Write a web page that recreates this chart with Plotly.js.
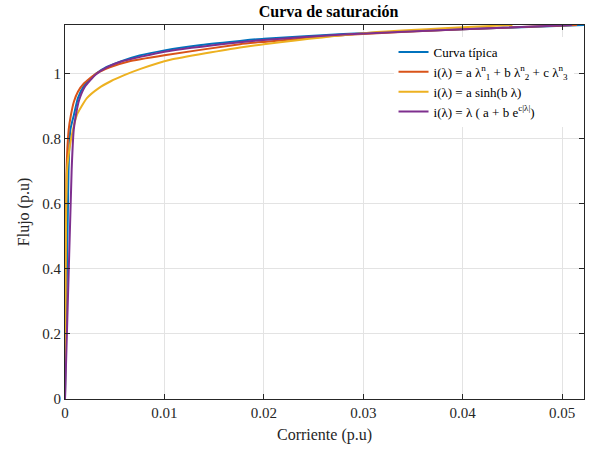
<!DOCTYPE html>
<html><head><meta charset="utf-8">
<script src="https://cdn.plot.ly/plotly-3.0.1.min.js"></script>
<style>html,body{margin:0;padding:0;background:#fff}#c{width:592px;height:450px}</style>
</head><body><div id="c"></div>
<script>
const names = ["Curva típica",
  "i(λ) = a λ<sup>n</sup><sub>1</sub> + b λ<sup>n</sup><sub>2</sub> + c λ<sup>n</sup><sub>3</sub>",
  "i(λ) = a sinh(b λ)",
  "i(λ) = λ ( a + b e<sup>c|λ|</sup>)"];
const colors = ["#0072BD", "#D95319", "#EDB120", "#7E2F8E"];

const typicalI = [0, 0.00035, 0.00054, 0.0009, 0.0013, 0.0019, 0.0031, 0.0042, 0.0056, 0.0075, 0.01, 0.0135, 0.0176, 0.02, 0.028, 0.04, 0.0522];
const typicalF = [0, 0.7, 0.828, 0.874, 0.925, 0.962, 1.0, 1.021, 1.038, 1.056, 1.072, 1.088, 1.101, 1.108, 1.122, 1.137, 1.15];

const polyI = [0, 0.00015, 0.00037, 0.0006, 0.0009, 0.0013, 0.0019, 0.0031, 0.0045, 0.0064, 0.01, 0.0176, 0.02, 0.0285, 0.04, 0.0515];
const polyF = [0, 0.7, 0.828, 0.874, 0.915, 0.945, 0.97, 1.0, 1.02, 1.038, 1.057, 1.091, 1.098, 1.12, 1.137, 1.15];

const sinhI = [0, 0.0002, 0.0005, 0.0008, 0.0012, 0.0022, 0.0034, 0.0046, 0.0059, 0.0076, 0.0106, 0.0176, 0.02, 0.03, 0.04, 0.045];
const sinhF = [0, 0.7, 0.78, 0.828, 0.874, 0.925, 0.956, 0.977, 0.995, 1.015, 1.043, 1.081, 1.091, 1.125, 1.143, 1.15];

const expI = [0, 0.00067, 0.00088, 0.0011, 0.0014, 0.002, 0.0031, 0.0042, 0.0056, 0.01, 0.0176, 0.02, 0.028, 0.04, 0.051];
const expF = [0, 0.705, 0.828, 0.874, 0.917, 0.96, 0.998, 1.02, 1.037, 1.068, 1.097, 1.104, 1.121, 1.137, 1.15];

const xs = [typicalI, polyI, sinhI, expI];
const ys = [typicalF, polyF, sinhF, expF];
const traces = xs.map((x, k) => ({
  x: x, y: ys[k], type: "scatter", mode: "lines", name: names[k],
  line: {color: colors[k], width: 2, shape: "spline", smoothing: 0.5}
}));

const font = {family: "Liberation Serif, Times New Roman, serif", color: "#262626"};
const axisBase = {
  showline: true, mirror: "ticks", linecolor: "#262626", linewidth: 1,
  ticks: "inside", ticklen: 5, tickcolor: "#262626",
  showgrid: true, gridcolor: "#e3e3e3", gridwidth: 1, zeroline: false,
  tickfont: Object.assign({size: 15}, font)
};
const layout = {
  width: 592, height: 450,
  margin: {l: 65, r: 8, t: 25, b: 51},
  paper_bgcolor: "#fff", plot_bgcolor: "#fff",
  font: font,
  title: {text: "<b>Curva de saturación</b>", x: 0.555, xanchor: "center", y: 0.975, yanchor: "middle",
          font: Object.assign({size: 16}, font, {color: "#000"})},
  xaxis: Object.assign({}, axisBase, {range: [0, 0.0522], tickvals: [0, 0.01, 0.02, 0.03, 0.04, 0.05],
    ticktext: ["0", "0.01", "0.02", "0.03", "0.04", "0.05"],
    title: {text: "Corriente (p.u)", standoff: 8, font: Object.assign({size: 16}, font)}}),
  yaxis: Object.assign({}, axisBase, {range: [0, 1.15], tickvals: [0, 0.2, 0.4, 0.6, 0.8, 1],
    ticktext: ["0", "0.2", "0.4", "0.6", "0.8", "1"],
    title: {text: "Flujo (p.u)", standoff: 8, font: Object.assign({size: 16}, font)}}),
  showlegend: true,
  legend: {x: 0.633, y: 0.968, xanchor: "left", yanchor: "top", bgcolor: "#fff",
           borderwidth: 0, font: Object.assign({size: 13}, font, {color: "#000"}),
           tracegroupgap: 0, itemwidth: 30}
};
Plotly.newPlot("c", traces, layout, {displayModeBar: false, staticPlot: true});
</script>
</body></html>
